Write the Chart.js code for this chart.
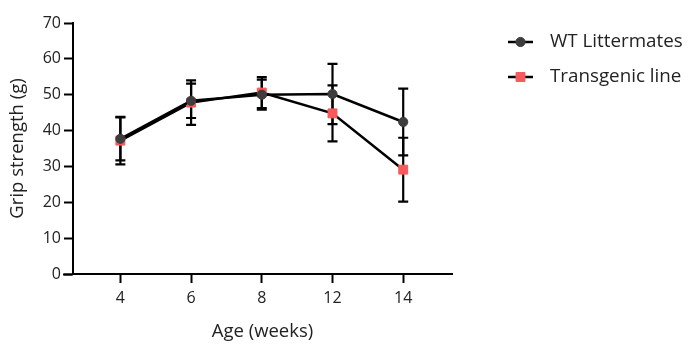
<!DOCTYPE html>
<html>
<head>
<meta charset="utf-8">
<script src="https://cdn.jsdelivr.net/npm/chart.js@4/dist/chart.umd.min.js"></script>
<style>
  html, body { margin: 0; padding: 0; background: #fff; }
  #wrap { width: 700px; height: 363px; }
</style>
</head>
<body>
<div id="wrap"><canvas id="chart" width="700" height="363"></canvas></div>
<script>
// Age groups on the x axis
const ages = ['4', '6', '8', '12', '14'];

// WT littermates: mean and error (+/-)
const wtMean = [37.7, 48.3, 50.0, 50.2, 42.4];
const wtErr = [6.0, 4.8, 4.2, 8.4, 9.3];

// Transgenic line: mean and error (+/-)
const tgMean = [37.2, 47.8, 50.6, 44.8, 29.1];
const tgErr = [6.6, 6.2, 4.3, 7.8, 8.9];

const yTicks = [0, 10, 20, 30, 40, 50, 60, 70];

const fontFamily = '"Open Sans", "Noto Sans", sans-serif';
const textColor = '#222';
const wtColor = '#3d3d3d';
const tgColor = '#f65a5c';

const toPoints = arr => arr.map((v, i) => ({ x: i, y: v }));

// Error bars with caps, drawn under the markers
const errorBars = {
  id: 'errorBars',
  beforeDatasetsDraw(chart) {
    const { ctx, scales: { x, y } } = chart;
    const sets = [[tgMean, tgErr], [wtMean, wtErr]];
    ctx.save();
    ctx.strokeStyle = '#000';
    ctx.lineWidth = 2.2;
    sets.forEach(([mean, err]) => {
      mean.forEach((m, i) => {
        const px = x.getPixelForValue(i);
        const top = y.getPixelForValue(m + err[i]);
        const bot = y.getPixelForValue(m - err[i]);
        ctx.beginPath();
        ctx.moveTo(px, top); ctx.lineTo(px, bot);
        ctx.moveTo(px - 5, top); ctx.lineTo(px + 5, top);
        ctx.moveTo(px - 5, bot); ctx.lineTo(px + 5, bot);
        ctx.stroke();
      });
    });
    ctx.restore();
  }
};

// x axis line runs a bit past the y axis, and the legend with line+marker
const extras = {
  id: 'extras',
  afterDraw(chart) {
    const { ctx, chartArea } = chart;
    ctx.save();
    ctx.strokeStyle = '#000';
    ctx.lineWidth = 2;
    ctx.beginPath();
    ctx.moveTo(chartArea.left - 10, chartArea.bottom + 0.5);
    ctx.lineTo(chartArea.left, chartArea.bottom + 0.5);
    ctx.stroke();

    const x0 = chartArea.right + 56;
    chart.data.datasets.forEach((ds, i) => {
      const yy = 42 + i * 35;
      ctx.strokeStyle = '#000';
      ctx.lineWidth = 2.5;
      ctx.beginPath();
      ctx.moveTo(x0, yy); ctx.lineTo(x0 + 25, yy);
      ctx.stroke();
      ctx.fillStyle = ds.pointBackgroundColor;
      ctx.strokeStyle = ds.pointBorderColor;
      ctx.lineWidth = 1;
      Chart.helpers.drawPoint(ctx, {
        pointStyle: ds.pointStyle,
        radius: ds.pointStyle === 'rect' ? 6.3 : 4.6,
        borderWidth: 1,
        rotation: 0
      }, x0 + 12.5, yy);
      ctx.fillStyle = textColor;
      ctx.font = '18.8px ' + fontFamily;
      ctx.textBaseline = 'middle';
      ctx.textAlign = 'left';
      ctx.fillText(ds.label, x0 + 42, yy);
    });
    ctx.restore();
  }
};

new Chart(document.getElementById('chart'), {
  type: 'line',
  data: {
    datasets: [
      {
        label: 'WT Littermates',
        data: toPoints(wtMean),
        borderColor: '#000',
        borderWidth: 2.5,
        pointStyle: 'circle',
        pointRadius: 4.6,
        pointBackgroundColor: wtColor,
        pointBorderColor: wtColor,
        pointBorderWidth: 1
      },
      {
        label: 'Transgenic line',
        data: toPoints(tgMean),
        borderColor: '#000',
        borderWidth: 2.5,
        pointStyle: 'rect',
        pointRadius: 6.3,
        pointBackgroundColor: tgColor,
        pointBorderColor: tgColor,
        pointBorderWidth: 1
      }
    ]
  },
  options: {
    responsive: false,
    animation: false,
    layout: { padding: { top: 23, right: 248, left: 0, bottom: 16 } },
    plugins: {
      legend: { display: false },
      tooltip: { enabled: false }
    },
    scales: {
      x: {
        type: 'linear',
        min: -0.67,
        max: 4.69,
        afterBuildTicks: axis => { axis.ticks = ages.map((a, i) => ({ value: i })); },
        afterFit: axis => { axis.height = 73; },
        border: { display: true, color: '#000', width: 2 },
        grid: { drawOnChartArea: false, tickLength: 9, tickWidth: 2, tickColor: '#000' },
        ticks: {
          callback: v => ages[v],
          font: { family: fontFamily, size: 16 },
          color: textColor,
          padding: 6,
          maxRotation: 0
        },
        title: {
          display: true,
          text: 'Age (weeks)',
          font: { family: fontFamily, size: 18.5 },
          color: textColor,
          padding: { top: 10 }
        }
      },
      y: {
        min: 0,
        max: 70,
        afterBuildTicks: axis => { axis.ticks = yTicks.map(v => ({ value: v })); },
        afterFit: axis => { axis.width = 73; },
        border: { display: true, color: '#000', width: 2 },
        grid: { drawOnChartArea: false, tickLength: 9, tickWidth: 2, tickColor: '#000' },
        ticks: {
          font: { family: fontFamily, size: 16 },
          color: textColor,
          padding: 3
        },
        title: {
          display: true,
          text: 'Grip strength (g)',
          font: { family: fontFamily, size: 18.5 },
          color: textColor,
          padding: { top: 7, bottom: 0 }
        }
      }
    }
  },
  plugins: [errorBars, extras]
});
</script>
</body>
</html>
